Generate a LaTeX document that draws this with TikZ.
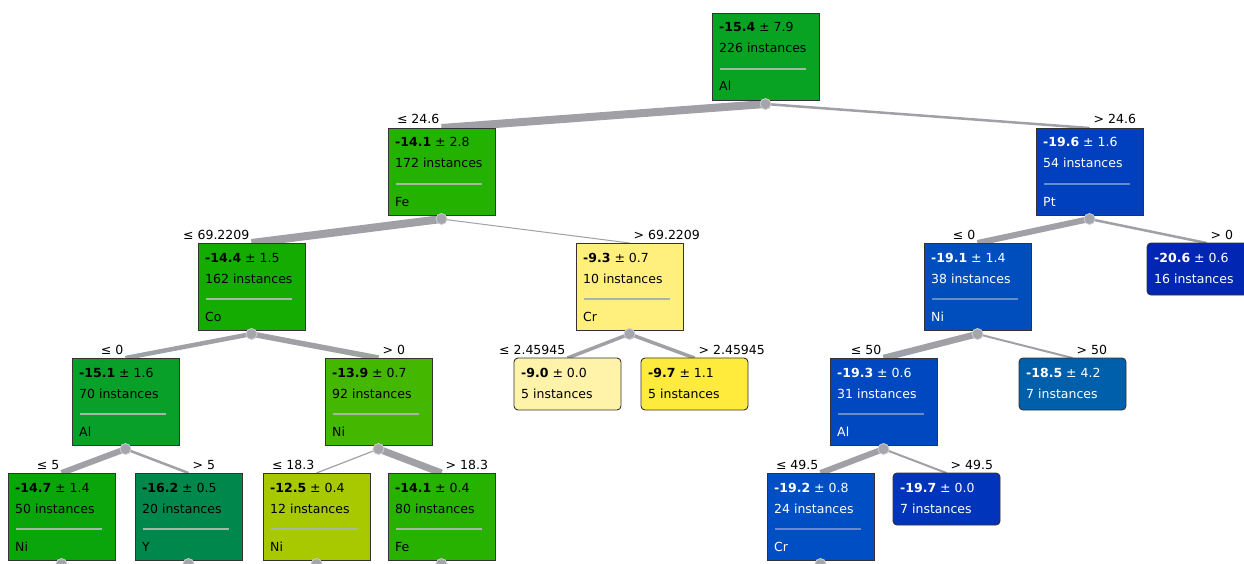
\documentclass[tikz,border=0pt]{standalone}
\usepackage{fontspec}
\setmainfont{DejaVu Sans}
\usetikzlibrary{calc,backgrounds}
\definecolor{txtgn}{RGB}{0,0,0}
\definecolor{sepgn}{RGB}{168,182,168}
\definecolor{txtbl}{RGB}{255,255,255}
\definecolor{sepbl}{RGB}{100,140,200}
\definecolor{edgegray}{RGB}{160,160,166}
\definecolor{knobgray}{RGB}{165,165,172}
\definecolor{knobring}{RGB}{205,205,210}
\definecolor{cRoot}{RGB}{8,163,35}
\definecolor{cFe}{RGB}{36,178,0}
\definecolor{cCo}{RGB}{20,172,0}
\definecolor{cAlG}{RGB}{8,160,40}
\definecolor{cNiG}{RGB}{68,184,0}
\definecolor{cNiF}{RGB}{10,165,10}
\definecolor{cY}{RGB}{0,135,75}
\definecolor{cNiL}{RGB}{168,200,0}
\definecolor{cFeL}{RGB}{40,178,0}
\definecolor{cCrY}{RGB}{255,240,125}
\definecolor{cNineZero}{RGB}{255,243,170}
\definecolor{cNineSeven}{RGB}{255,235,60}
\definecolor{cPt}{RGB}{0,64,190}
\definecolor{cNiB}{RGB}{0,78,190}
\definecolor{cTwenty}{RGB}{0,38,178}
\definecolor{cAlB}{RGB}{0,72,192}
\definecolor{cEighteen}{RGB}{0,95,170}
\definecolor{cCrB}{RGB}{0,78,196}
\definecolor{cNineteen}{RGB}{0,52,186}
% inner node: name, x, y, fill, scheme, mean, sd, n, attribute
\newcommand\innernode[9]{%
  \node[box, fill=#4] (#1) at (#2,#3) {};
  \node[txt, text=txt#5] (#1-a) at ($(#1.north west)+(7,19)$) {\textbf{#6} ± #7};
  \node[txt, text=txt#5] (#1-b) at ($(#1.north west)+(7,40)$) {#8 instances};
  \draw[draw=sep#5, line width=1.2pt] ($(#1.north west)+(8,56)$) -- ($(#1.north west)+(94,56)$);
  \node[txt, text=txt#5] (#1-c) at ($(#1.north west)+(7,78)$) {#9};
  \coordinate (#1-o) at ($(#1.south)+(0,4)$);
  \coordinate (#1-t) at (#1.north);
}
% leaf node: name, x, y, fill, scheme, mean, sd, n
\newcommand\leafnode[8]{%
  \node[leafbox, fill=#4] (#1) at (#2,#3) {};
  \node[txt, text=txt#5] (#1-a) at ($(#1.north west)+(7,19)$) {\textbf{#6} ± #7};
  \node[txt, text=txt#5] (#1-b) at ($(#1.north west)+(7,40)$) {#8 instances};
  \coordinate (#1-t) at (#1.north);
}
\begin{document}
\begin{tikzpicture}[x=1pt,y=-1pt,
  box/.style={draw=black!80, line width=0.9pt, anchor=north west, minimum width=107pt, minimum height=87pt, inner sep=0pt, outer sep=0pt},
  leafbox/.style={box, minimum height=52pt, rounded corners=4pt},
  txt/.style={anchor=base west, inner sep=0pt, font=\fontsize{12.5}{14}\selectfont},
  lbl/.style={inner sep=0pt, font=\fontsize{12.5}{14}\selectfont, text=black},
  edge/.style={draw=edgegray, line cap=butt},
  knob/.style={circle, fill=knobgray, draw=knobring, line width=0.8pt, minimum size=11pt, inner sep=0pt}
]
\useasboundingbox (0,0) rectangle (1244,564);
\clip (0,0) rectangle (1244,564);

\innernode{root}{712}{13}{cRoot}{gn}{-15.4}{7.9}{226}{Al}
\innernode{fe}{388}{128}{cFe}{gn}{-14.1}{2.8}{172}{Fe}
\innernode{pt}{1036}{128}{cPt}{bl}{-19.6}{1.6}{54}{Pt}
\innernode{co}{198}{243}{cCo}{gn}{-14.4}{1.5}{162}{Co}
\innernode{cry}{576}{243}{cCrY}{gn}{-9.3}{0.7}{10}{Cr}
\innernode{nib}{924}{243}{cNiB}{bl}{-19.1}{1.4}{38}{Ni}
\leafnode{ltwenty}{1147}{243}{cTwenty}{bl}{-20.6}{0.6}{16}
\coordinate (ltwenty-t) at ($(ltwenty.north)+(6,0)$);
\innernode{alg}{72}{358}{cAlG}{gn}{-15.1}{1.6}{70}{Al}
\innernode{nig}{325}{358}{cNiG}{gn}{-13.9}{0.7}{92}{Ni}
\leafnode{lninezero}{514}{358}{cNineZero}{gn}{-9.0}{0.0}{5}
\leafnode{lnineseven}{641}{358}{cNineSeven}{gn}{-9.7}{1.1}{5}
\innernode{alb}{830}{358}{cAlB}{bl}{-19.3}{0.6}{31}{Al}
\leafnode{leighteen}{1019}{358}{cEighteen}{bl}{-18.5}{4.2}{7}
\innernode{nif}{8}{473}{cNiF}{gn}{-14.7}{1.4}{50}{Ni}
\innernode{yy}{135}{473}{cY}{gn}{-16.2}{0.5}{20}{Y}
\innernode{nil}{263}{473}{cNiL}{gn}{-12.5}{0.4}{12}{Ni}
\innernode{fel}{388}{473}{cFeL}{gn}{-14.1}{0.4}{80}{Fe}
\innernode{crb}{767}{473}{cCrB}{bl}{-19.2}{0.8}{24}{Cr}
\leafnode{lnineteen}{893}{473}{cNineteen}{bl}{-19.7}{0.0}{7}

\begin{pgfonlayer}{background}
\draw[edge, line width=8pt] (root-o) -- (fe-t);
\draw[edge, line width=2.5pt] (root-o) -- (pt-t);
\draw[edge, line width=8pt] (fe-o) -- (co-t);
\draw[edge, line width=1pt] (fe-o) -- (cry-t);
\draw[edge, line width=4.5pt] (co-o) -- (alg-t);
\draw[edge, line width=5.5pt] (co-o) -- (nig-t);
\draw[edge, line width=3.5pt] (cry-o) -- (lninezero-t);
\draw[edge, line width=3.5pt] (cry-o) -- (lnineseven-t);
\draw[edge, line width=6pt] (pt-o) -- (nib-t);
\draw[edge, line width=2.5pt] (pt-o) -- (ltwenty-t);
\draw[edge, line width=6.5pt] (nib-o) -- (alb-t);
\draw[edge, line width=2pt] (nib-o) -- (leighteen-t);
\draw[edge, line width=6pt] (alg-o) -- (nif-t);
\draw[edge, line width=2.5pt] (alg-o) -- (yy-t);
\draw[edge, line width=1.2pt] (nig-o) -- (nil-t);
\draw[edge, line width=7pt] (nig-o) -- (fel-t);
\draw[edge, line width=6pt] (alb-o) -- (crb-t);
\draw[edge, line width=2pt] (alb-o) -- (lnineteen-t);
\end{pgfonlayer}

\foreach \n in {root,fe,pt,co,cry,nib,alg,nig,alb,nif,yy,nil,fel,crb}
  \node[knob] (\n-knob) at (\n-o) {};

\node[lbl, anchor=base east] (l-fe) at ($(fe-t)+(-2,-4)$) {≤ 24.6};
\node[lbl, anchor=base west] (l-pt) at ($(pt-t)+(4,-4)$) {> 24.6};
\node[lbl, anchor=base east] (l-co) at ($(co-t)+(-2,-4)$) {≤ 69.2209};
\node[lbl, anchor=base west] (l-cry) at ($(cry-t)+(4,-4)$) {> 69.2209};
\node[lbl, anchor=base east] (l-nib) at ($(nib-t)+(-2,-4)$) {≤ 0};
\node[lbl, anchor=base west] (l-ltwenty) at ($(ltwenty-t)+(4,-4)$) {> 0};
\node[lbl, anchor=base east] (l-alg) at ($(alg-t)+(-2,-4)$) {≤ 0};
\node[lbl, anchor=base west] (l-nig) at ($(nig-t)+(4,-4)$) {> 0};
\node[lbl, anchor=base east] (l-lninezero) at ($(lninezero-t)+(-2,-4)$) {≤ 2.45945};
\node[lbl, anchor=base west] (l-lnineseven) at ($(lnineseven-t)+(4,-4)$) {> 2.45945};
\node[lbl, anchor=base east] (l-alb) at ($(alb-t)+(-2,-4)$) {≤ 50};
\node[lbl, anchor=base west] (l-leighteen) at ($(leighteen-t)+(4,-4)$) {> 50};
\node[lbl, anchor=base east] (l-nif) at ($(nif-t)+(-2,-4)$) {≤ 5};
\node[lbl, anchor=base west] (l-yy) at ($(yy-t)+(4,-4)$) {> 5};
\node[lbl, anchor=base east] (l-nil) at ($(nil-t)+(-2,-4)$) {≤ 18.3};
\node[lbl, anchor=base west] (l-fel) at ($(fel-t)+(4,-4)$) {> 18.3};
\node[lbl, anchor=base east] (l-crb) at ($(crb-t)+(-2,-4)$) {≤ 49.5};
\node[lbl, anchor=base west] (l-lnineteen) at ($(lnineteen-t)+(4,-4)$) {> 49.5};
\end{tikzpicture}
\end{document}
